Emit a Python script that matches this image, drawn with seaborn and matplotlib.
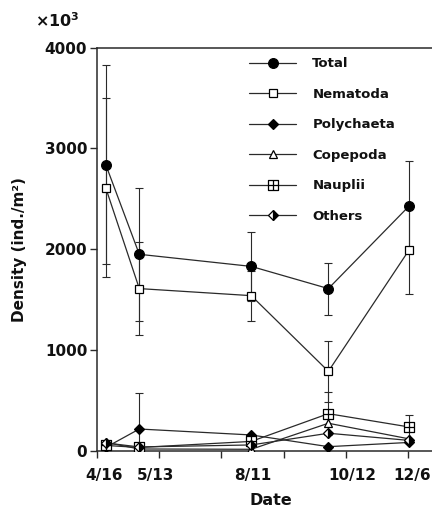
import numpy as np
import pandas as pd
import matplotlib
matplotlib.use("Agg")
import matplotlib.pyplot as plt
from matplotlib.path import Path
import seaborn as sns

# ---- data (x = days since Apr 9) ----
date_pos = [7, 34, 124, 186, 251]
date_labels = ["4/16", "5/13", "8/11", "10/12", "12/6"]
label_pos = [5.5, 47, 125.5, 205, 253.5]

total = [2840, 1950, 1830, 1610, 2430]
nematoda = [2610, 1610, 1540, 790, 1995]
polychaeta = [35, 218, 159, 43, 85]
copepoda = [85, 20, 17, 275, 120]
nauplii = [55, 35, 95, 370, 238]
others = [80, 40, 60, 176, 105]

total_err = [990, 662, 342, 258, 447]
nematoda_err = [888, 460, 248, 305, 437]
polychaeta_err = [0, 355, 0, 0, 0]
nauplii_err = [0, 0, 0, 210, 115]

yticks = [0, 1000, 2000, 3000, 4000]

sns.set_theme(style="ticks")
plt.rcParams["font.family"] = ["DejaVu Sans"]
plt.rcParams["font.weight"] = "bold"
plt.rcParams["text.color"] = "#111111"
plt.rcParams["axes.labelcolor"] = "#111111"
plt.rcParams["xtick.labelcolor"] = "#111111"
plt.rcParams["ytick.labelcolor"] = "#111111"

fig = plt.figure(figsize=(4.32, 5.12), dpi=100)
ax = fig.add_axes([97 / 432, 1 - 451 / 512, 1 - 97 / 432, (451 - 47.5) / 512])

# custom square-with-cross marker for Nauplii
verts = [(-1, -1), (1, -1), (1, 1), (-1, 1), (-1, -1),
         (0, -1), (0, 1), (-1, 0), (1, 0)]
codes = [Path.MOVETO, Path.LINETO, Path.LINETO, Path.LINETO, Path.CLOSEPOLY,
         Path.MOVETO, Path.LINETO, Path.MOVETO, Path.LINETO]
cross_square = Path(verts, codes)

lc = "#2a2a2a"
series = [
    ("Total", total, dict(marker="o", markersize=7, markerfacecolor="black")),
    ("Nematoda", nematoda, dict(marker="s", markersize=6.2, markerfacecolor="white")),
    ("Polychaeta", polychaeta, dict(marker="D", markersize=5.5, markerfacecolor="black")),
    ("Copepoda", copepoda, dict(marker="^", markersize=6.2, markerfacecolor="white")),
    ("Nauplii", nauplii, dict(marker=cross_square, markersize=6.5, markerfacecolor="white")),
    ("Others", others, dict(marker="D", markersize=5.5, markerfacecolor="black",
                            fillstyle="right", markerfacecoloralt="white")),
]

# error bars
for vals, errs in [(total, total_err), (nematoda, nematoda_err),
                   (polychaeta, polychaeta_err), (nauplii, nauplii_err)]:
    e = np.array(errs, dtype=float)
    m = e > 0
    ax.errorbar(np.array(date_pos)[m], np.array(vals)[m], yerr=e[m], fmt="none",
                ecolor=lc, elinewidth=0.8, capsize=3, capthick=0.8, zorder=1)

for name, vals, mk in series:
    df = pd.DataFrame({"x": date_pos, "y": vals})
    sns.lineplot(data=df, x="x", y="y", ax=ax, color=lc, linewidth=0.9,
                 markeredgecolor="black", markeredgewidth=0.9, label=name,
                 zorder=3, **mk)

ax.set_xlim(0, 269.3)
ax.set_ylim(0, 4000)
ax.set_yticks(yticks)
ax.set_yticklabels([str(v) for v in yticks], fontsize=11, fontweight="bold")
ax.set_xticks(label_pos)
ax.set_xticklabels(date_labels, fontsize=11, fontweight="bold")
ax.set_xticks([0, 50, 100, 150, 200, 250], minor=True)
ax.tick_params(axis="x", which="major", length=0, pad=12)
ax.tick_params(axis="x", which="minor", length=5, width=1, direction="out", color=lc)
ax.tick_params(axis="y", length=5, width=1, direction="out", color=lc, pad=2)

for s in ["left", "bottom", "top"]:
    ax.spines[s].set_color(lc)
    ax.spines[s].set_linewidth(1.1)
ax.spines["right"].set_visible(False)

ax.set_xlabel("Date", fontsize=11.5, fontweight="bold")
ax.set_ylabel("Density (ind./m²)", fontsize=11, fontweight="bold")
ax.xaxis.set_label_coords(0.519, -0.105)
ax.yaxis.set_label_coords(-0.209, 0.498)

fig.text(35 / 432, 1 - 27 / 512, "×10$^{\\mathbf{3}}$", fontsize=11.5, fontweight="bold",
         ha="left", va="baseline")

leg = ax.legend(loc="upper left", bbox_to_anchor=(0.4537, 0.976), frameon=False,
                fontsize=9.5, handlelength=3.6, handletextpad=1.2, labelspacing=1.33,
                borderaxespad=0, borderpad=0)
for t in leg.get_texts():
    t.set_fontweight("bold")
    t.set_color("#111111")

fig.savefig("out.png", dpi=100)
